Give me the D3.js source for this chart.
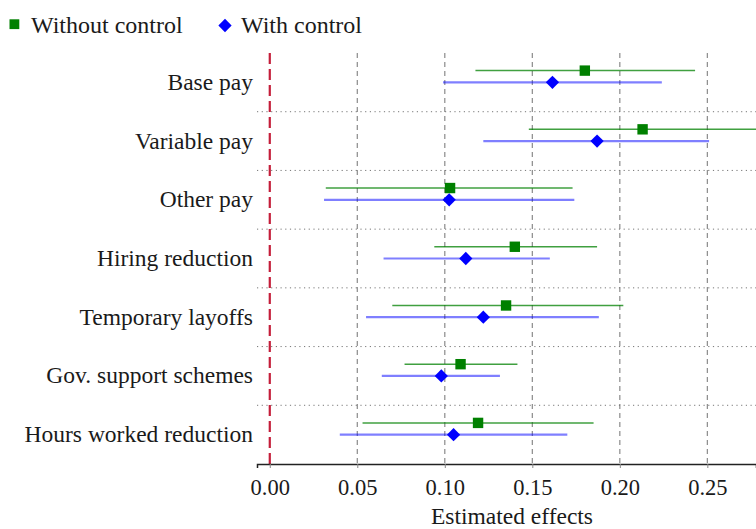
<!DOCTYPE html>
<html lang="en">
<head>
    <meta charset="UTF-8">
    <title>Estimated effects</title>
    <style>
        body { margin: 0; background: #fff; }
        svg text { font-family: "Liberation Serif", "DejaVu Serif", serif; fill: #1a1a1a; }
    </style>
</head>
<body>
    <div id="chart"></div>

    <script src="https://d3js.org/d3.v7.min.js"></script>
    <script>
        // categories, top to bottom
        var categories = ["Base pay", "Variable pay", "Other pay", "Hiring reduction",
            "Temporary layoffs", "Gov. support schemes", "Hours worked reduction"];

        // without control: estimate and confidence bounds
        var noCtrlEst = [0.180, 0.213, 0.103, 0.140, 0.135, 0.109, 0.119];
        var noCtrlLow = [0.1175, 0.148, 0.032, 0.094, 0.070, 0.077, 0.053];
        var noCtrlHigh = [0.243, 0.278, 0.173, 0.187, 0.202, 0.1415, 0.185];

        // with control
        var ctrlEst = [0.1615, 0.187, 0.1025, 0.112, 0.122, 0.098, 0.105];
        var ctrlLow = [0.099, 0.122, 0.031, 0.065, 0.055, 0.064, 0.040];
        var ctrlHigh = [0.224, 0.251, 0.174, 0.160, 0.188, 0.1315, 0.170];

        var xTicks = [0, 0.05, 0.10, 0.15, 0.20, 0.25];

        const width = 756, height = 529;
        const plotLeft = 257, plotRight = 756, plotTop = 53, plotBottom = 464;

        const svg = d3.select("#chart").append("svg")
            .attr("width", width)
            .attr("height", height);

        const x = d3.scaleLinear().domain([-0.0073, 0.2778]).range([plotLeft, plotRight]);
        const y = d3.scaleBand().domain(categories).range([plotTop, plotBottom]).padding(0);
        const offset = y.bandwidth() * 0.2;

        // vertical dashed grid
        svg.append("g")
            .selectAll("line")
            .data(xTicks.slice(1))
            .join("line")
            .attr("x1", d => x(d)).attr("x2", d => x(d))
            .attr("y1", plotTop).attr("y2", plotBottom)
            .attr("stroke", "#8a8a8a")
            .attr("stroke-width", 1.2)
            .attr("stroke-dasharray", "5,4");

        // dotted row separators
        svg.append("g")
            .selectAll("line")
            .data(categories.slice(1))
            .join("line")
            .attr("x1", plotLeft).attr("x2", plotRight)
            .attr("y1", d => y(d)).attr("y2", d => y(d))
            .attr("stroke", "#777")
            .attr("stroke-width", 1)
            .attr("stroke-dasharray", "1.2,3.5");

        // zero reference line
        svg.append("line")
            .attr("x1", x(0)).attr("x2", x(0))
            .attr("y1", plotTop).attr("y2", plotBottom)
            .attr("stroke", "#c41e3a")
            .attr("stroke-width", 2.2)
            .attr("stroke-dasharray", "11,5");

        // x axis
        const xAxis = d3.axisBottom(x)
            .tickValues(xTicks)
            .tickFormat(d3.format(".2f"))
            .tickSize(4)
            .tickPadding(11);
        const gx = svg.append("g")
            .attr("transform", `translate(0,${plotBottom})`)
            .call(xAxis);
        gx.select(".domain").attr("stroke", "#222").attr("stroke-width", 1.5);
        gx.selectAll(".tick line").attr("stroke", "#888");
        gx.selectAll(".tick text").style("font-size", "22.5px").attr("fill", "#1a1a1a");

        svg.append("text")
            .attr("x", 512).attr("y", 524)
            .attr("text-anchor", "middle")
            .style("font-size", "23.5px")
            .text("Estimated effects");

        // y labels
        const yAxis = d3.axisLeft(y).tickSize(0).tickPadding(4);
        const gy = svg.append("g")
            .attr("transform", `translate(${plotLeft},0)`)
            .call(yAxis);
        gy.select(".domain").remove();
        gy.selectAll(".tick text").style("font-size", "23.5px").attr("fill", "#1a1a1a");

        const rows = categories.map((c, i) => ({
            cat: c,
            g: noCtrlEst[i], gl: noCtrlLow[i], gh: noCtrlHigh[i],
            b: ctrlEst[i], bl: ctrlLow[i], bh: ctrlHigh[i]
        }));
        const yc = d => y(d.cat) + y.bandwidth() / 2;

        // without control (green)
        svg.append("g")
            .selectAll("line")
            .data(rows)
            .join("line")
            .attr("x1", d => x(d.gl)).attr("x2", d => x(d.gh))
            .attr("y1", d => yc(d) - offset).attr("y2", d => yc(d) - offset)
            .attr("stroke", "green")
            .attr("stroke-opacity", 0.75)
            .attr("stroke-width", 1.5);

        // with control (blue)
        svg.append("g")
            .selectAll("line")
            .data(rows)
            .join("line")
            .attr("x1", d => x(d.bl)).attr("x2", d => x(d.bh))
            .attr("y1", d => yc(d)).attr("y2", d => yc(d))
            .attr("stroke", "blue")
            .attr("stroke-opacity", 0.5)
            .attr("stroke-width", 2.2);

        svg.append("g")
            .selectAll("rect")
            .data(rows)
            .join("rect")
            .attr("x", d => x(d.g) - 5.2)
            .attr("y", d => yc(d) - offset - 5.2)
            .attr("width", 10.4).attr("height", 10.4)
            .attr("fill", "green");

        const diamond = d3.symbol().type(d3.symbolSquare).size(88);
        svg.append("g")
            .selectAll("path")
            .data(rows)
            .join("path")
            .attr("d", diamond)
            .attr("transform", d => `translate(${x(d.b)},${yc(d)}) rotate(45)`)
            .attr("fill", "blue");

        // legend
        const legend = svg.append("g");
        legend.append("rect")
            .attr("x", 9.5).attr("y", 19.3).attr("width", 9.8).attr("height", 9.8)
            .attr("fill", "green");
        legend.append("text")
            .attr("x", 31).attr("y", 33)
            .style("font-size", "24px")
            .text("Without control");
        legend.append("path")
            .attr("d", diamond)
            .attr("transform", "translate(225,25.5) rotate(45)")
            .attr("fill", "blue");
        legend.append("text")
            .attr("x", 241).attr("y", 33)
            .style("font-size", "24px")
            .text("With control");
    </script>
</body>
</html>
